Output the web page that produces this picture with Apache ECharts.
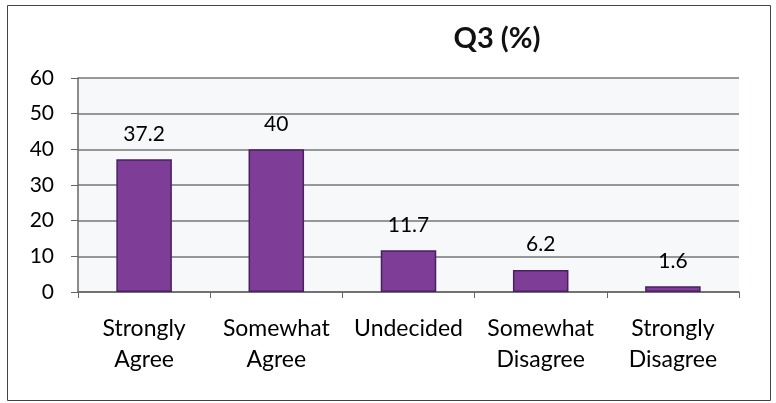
<!DOCTYPE html>
<html>
<head>
<meta charset="utf-8">
<script src="https://cdn.jsdelivr.net/npm/echarts@6/dist/echarts.min.js"></script>
<style>
  html, body { margin: 0; padding: 0; background: #fff; }
  #chart { width: 776px; height: 403px; }
</style>
</head>
<body>
<div id="chart"></div>
<script>
const categories = ['Strongly\nAgree', 'Somewhat\nAgree', 'Undecided', 'Somewhat\nDisagree', 'Strongly\nDisagree']
const values = [37.2, 40, 11.7, 6.2, 1.6]
const titleText = 'Q3 (%)'

const font = 'Lato, "Open Sans", sans-serif'
const chart = echarts.init(document.getElementById('chart'))

chart.setOption({
  animation: false,
  title: {
    text: titleText,
    left: 492,
    top: 19,
    textAlign: 'center',
    textStyle: { fontFamily: font, fontSize: 29, fontWeight: 'bold', color: '#111' },
  },
  // scanned frame round the chart
  graphic: [{
    type: 'rect',
    shape: { x: 7.5, y: 5.5, width: 763, height: 395 },
    style: { fill: 'none', stroke: '#444', lineWidth: 1 },
    silent: true,
  }],
  grid: {
    left: 78, right: 37, top: 78, bottom: 111,
    show: true, backgroundColor: '#f7f8fa', borderWidth: 0,
  },
  xAxis: {
    type: 'category',
    data: categories,
    axisLine: { lineStyle: { color: '#666', width: 1.5 } },
    axisTick: { show: true, length: 6, lineStyle: { color: '#666' } },
    axisLabel: { fontFamily: font, fontSize: 23, color: '#000', margin: 21, lineHeight: 31, interval: 0 },
  },
  yAxis: {
    type: 'value',
    min: 0,
    max: 60,
    interval: 10,
    axisLine: { show: true, lineStyle: { color: '#666', width: 1.5 } },
    axisTick: { show: true, length: 7, lineStyle: { color: '#666' } },
    axisLabel: { fontFamily: font, fontSize: 21, color: '#000', margin: 24 },
    splitLine: { lineStyle: { color: '#777', width: 1.5 } },
  },
  series: [{
    type: 'bar',
    data: values,
    barWidth: '42%',
    itemStyle: { color: '#7e3d96', borderColor: '#4a2063', borderWidth: 1.5 },
    label: {
      show: true,
      position: 'top',
      distance: 15,
      fontFamily: font,
      fontSize: 21,
      color: '#000',
    },
  }],
})
</script>
</body>
</html>
